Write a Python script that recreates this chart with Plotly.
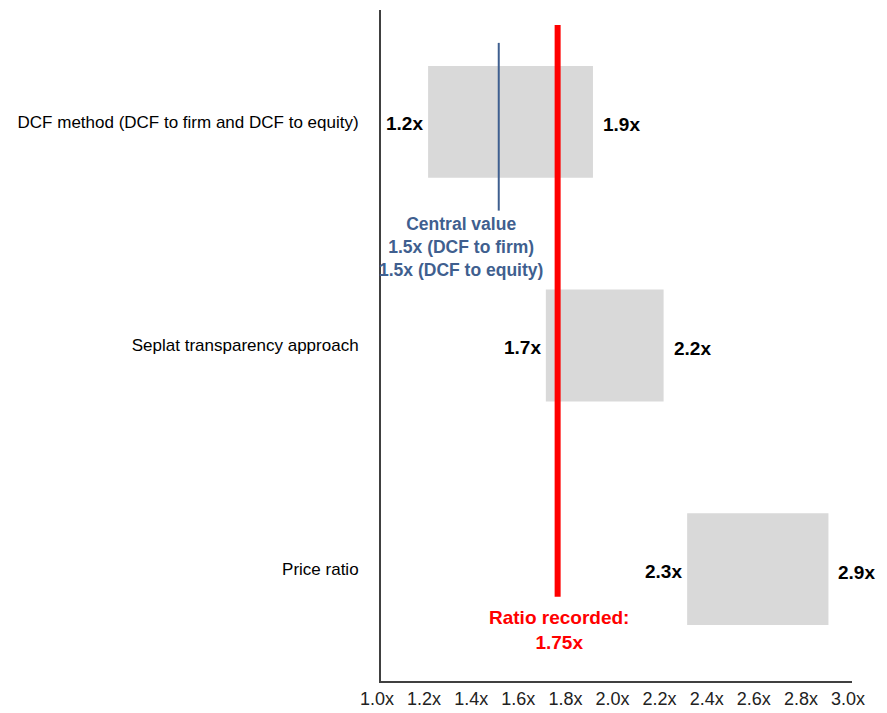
import plotly.graph_objects as go

# Valuation ranges (price / book multiple)
methods = ["DCF method (DCF to firm and DCF to equity)",
           "Seplat transparency approach",
           "Price ratio"]
low = [1.2, 1.7, 2.3]
high = [1.9, 2.2, 2.9]
central = 1.5
recorded = 1.75
x_ticks = [1.0, 1.2, 1.4, 1.6, 1.8, 2.0, 2.2, 2.4, 2.6, 2.8, 3.0]
x_ticktext = ["%.1fx" % t for t in x_ticks]

font = "Liberation Sans, Arial, sans-serif"
blue = "#3f5f8f"

fig = go.Figure()

# Floating grey bars low -> high
fig.add_trace(go.Bar(y=methods,
                     x=[h - l for l, h in zip(low, high)],
                     base=low,
                     orientation="h",
                     width=0.5,
                     marker=dict(color="#d9d9d9", line=dict(width=0)),
                     hoverinfo="skip",
                     showlegend=False))

# Value labels at either end of each bar
annotations = []
for m, l, h in zip(methods, low, high):
    annotations.append(dict(x=l, y=m, text="<b>%.1fx</b>" % l,
                            xanchor="right", xshift=-3, yshift=-2,
                            showarrow=False,
                            font=dict(family=font, size=19, color="black")))
    annotations.append(dict(x=h, y=m, text="<b>%.1fx</b>" % h,
                            xanchor="left", xshift=8, yshift=-3,
                            showarrow=False,
                            font=dict(family=font, size=19, color="black")))

# Central value line and label
fig.add_shape(type="line", xref="x", yref="paper",
              x0=central, x1=central, y0=0.701, y1=0.951,
              line=dict(color=blue, width=2))
annotations.append(dict(x=central, xref="x", xshift=-38,
                        y=0.699, yref="paper", yanchor="top",
                        text="<b>Central value<br>%.1fx (DCF to firm)<br>"
                             "%.1fx (DCF to equity)</b>" % (central, central),
                        showarrow=False, align="center",
                        font=dict(family=font, size=17.5, color=blue)))

# Recorded ratio line and label
fig.add_shape(type="line", xref="x", yref="paper",
              x0=recorded, x1=recorded, y0=0.1256, y1=0.9776,
              line=dict(color="#ff0000", width=6))
annotations.append(dict(x=recorded, xref="x", xshift=1,
                        y=0.114, yref="paper", yanchor="top",
                        text="<b>Ratio recorded:<br>%.2fx</b>" % recorded,
                        showarrow=False, align="center",
                        font=dict(family=font, size=19, color="#ff0000")))

fig.update_layout(width=887, height=713,
                  margin=dict(l=373, r=43, t=2, b=40),
                  plot_bgcolor="white", paper_bgcolor="white",
                  annotations=annotations,
                  font=dict(family=font, color="black"))

fig.update_xaxes(range=[1.0, 3.0], tickvals=x_ticks, ticktext=x_ticktext,
                 showgrid=False, zeroline=False,
                 showline=True, linecolor="#404040", linewidth=2,
                 ticks="", ticklabelshift=-4,
                 tickfont=dict(family=font, size=18, color="#222222"))
fig.update_yaxes(autorange="reversed", showgrid=False, zeroline=False,
                 showline=True, linecolor="#404040", linewidth=2,
                 ticks="", ticklabelstandoff=17,
                 tickfont=dict(family=font, size=17, color="black"))

fig.write_html("out.html")
